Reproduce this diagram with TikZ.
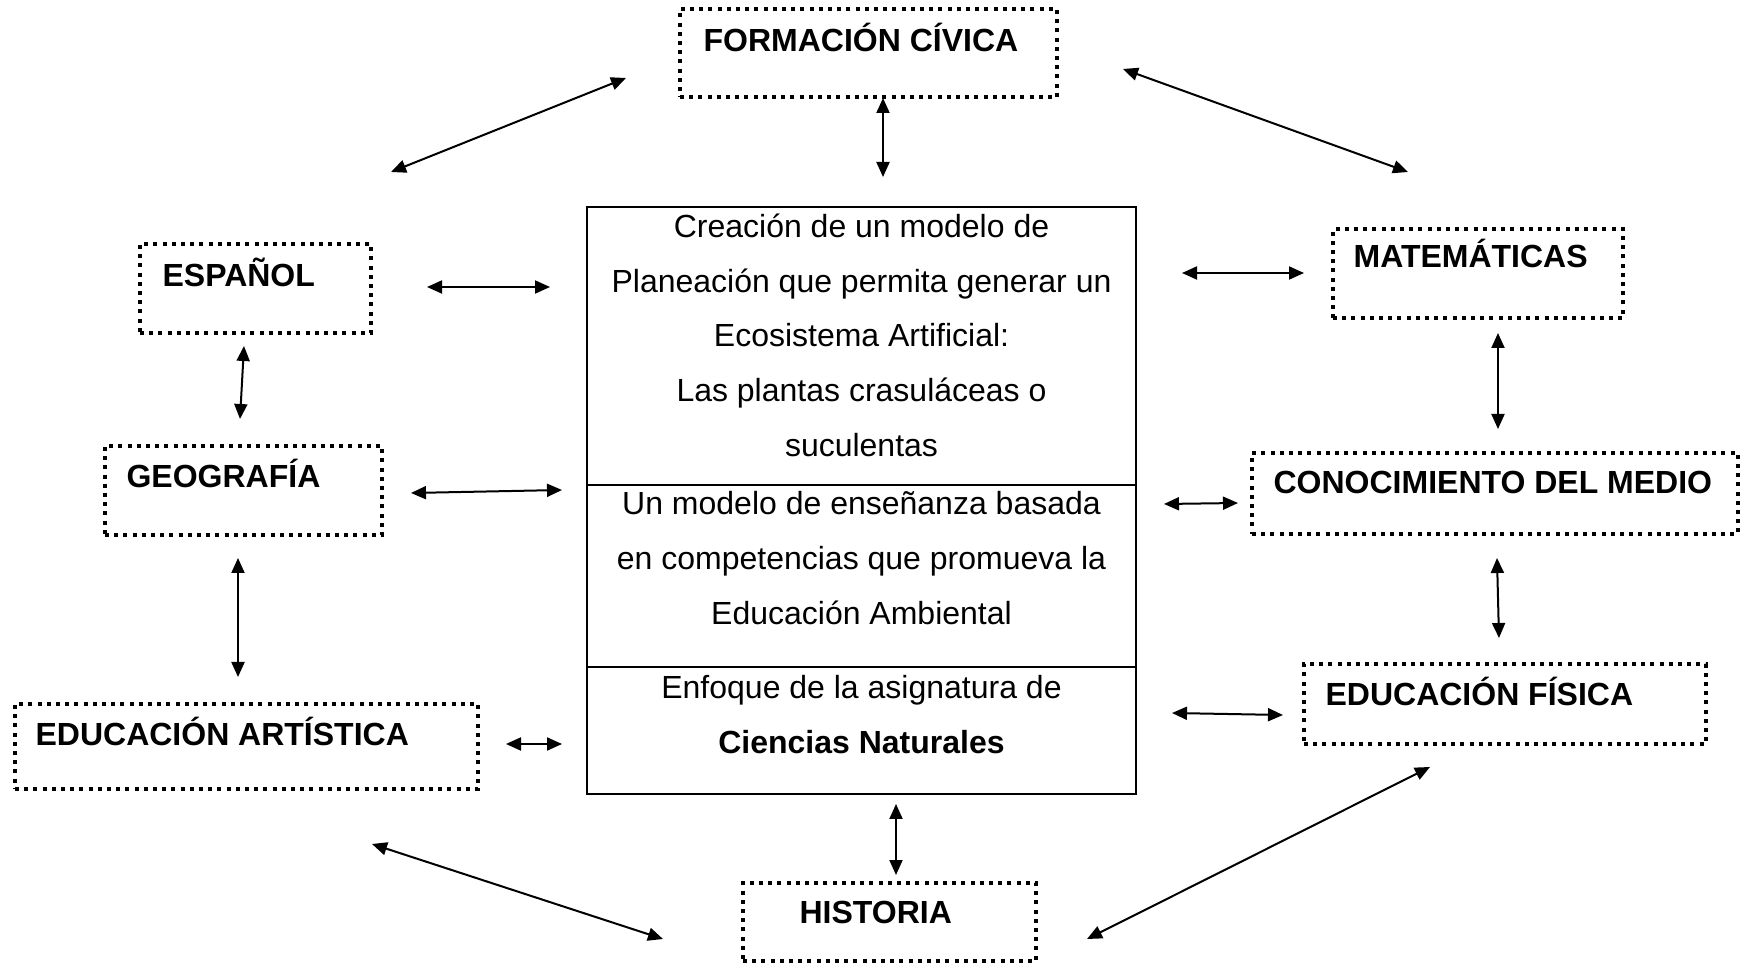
\documentclass[tikz,border=0pt]{standalone}
\usepackage{fontspec}
\setmainfont{Liberation Sans}
\usetikzlibrary{arrows.meta,fit,calc}
\begin{document}
\begin{tikzpicture}[x=0.5pt,y=-0.5pt,
  sbox/.style={draw, line width=1.8pt, dash pattern=on 2pt off 2.6pt, rectangle, inner sep=0pt},
  cbox/.style={draw, line width=1pt, rectangle, inner sep=0pt},
  lbl/.style={anchor=base west, inner sep=0pt, font=\fontsize{16}{19}\selectfont\bfseries},
  ctext/.style={anchor=base, inner sep=0pt, font=\fontsize{16}{19}\selectfont},
  link/.style={line width=1pt, {Triangle[length=7.5pt,width=6.5pt]}-{Triangle[length=7.5pt,width=6.5pt]}}]
\useasboundingbox (0,0) rectangle (1752,967);

% dotted subject boxes
\node[sbox, fit={(680,9) (1057,97)}] (fc) {};
\node[sbox, fit={(140,244) (371,333)}] (esp) {};
\node[sbox, fit={(105,446) (382,535)}] (geo) {};
\node[sbox, fit={(15,704) (478,789)}] (art) {};
\node[sbox, fit={(743,883) (1036,961)}] (his) {};
\node[sbox, fit={(1333,229) (1623,318)}] (mat) {};
\node[sbox, fit={(1252,453) (1738,534)}] (con) {};
\node[sbox, fit={(1304,664) (1706,744)}] (fis) {};

\node[lbl] (fct) at ($(fc.north west)+(25,44)$) {FORMACIÓN CÍVICA};
\node[lbl] (espt) at ($(esp.north west)+(24,44)$) {ESPAÑOL};
\node[lbl] (geot) at ($(geo.north west)+(23,43)$) {GEOGRAFÍA};
\node[lbl] (artt) at ($(art.north west)+(22,43)$) {EDUCACIÓN ARTÍSTICA};
\node[lbl] (hist) at ($(his.north west)+(58,42)$) {HISTORIA};
\node[lbl] (matt) at ($(mat.north west)+(22,40)$) {MATEMÁTICAS};
\node[lbl] (cont) at ($(con.north west)+(23,42)$) {CONOCIMIENTO DEL MEDIO};
\node[lbl] (fist) at ($(fis.north west)+(23,43)$) {EDUCACIÓN FÍSICA};

% central box
\node[cbox, fit={(587,207) (1136,794)}] (cen) {};
\coordinate (d1) at (0,485);
\coordinate (d2) at (0,667);
\draw[line width=1pt] (cen.west |- d1) -- (cen.east |- d1);
\draw[line width=1pt] (cen.west |- d2) -- (cen.east |- d2);

\node[ctext] (c1) at (cen.north |- 0,238) {Creación de un modelo de};
\node[ctext] (c2) at (cen.north |- 0,293) {Planeación que permita generar un};
\node[ctext] (c3) at (cen.north |- 0,347) {Ecosistema Artificial:};
\node[ctext] (c4) at (cen.north |- 0,402) {Las plantas crasuláceas o};
\node[ctext] (c5) at (cen.north |- 0,457) {suculentas};
\node[ctext] (c6) at (cen.north |- 0,515) {Un modelo de enseñanza basada};
\node[ctext] (c7) at (cen.north |- 0,570) {en competencias que promueva la};
\node[ctext] (c8) at (cen.north |- 0,625) {Educación Ambiental};
\node[ctext] (c9) at (cen.north |- 0,699) {Enfoque de la asignatura de};
\node[ctext, font=\fontsize{16}{19}\selectfont\bfseries] (c10) at (cen.north |- 0,754) {Ciencias Naturales};

% arrow end points
\coordinate (a1a) at (626,78);   \coordinate (a1b) at (391,172);
\coordinate (a2a) at (883,98);   \coordinate (a2b) at (883,177);
\coordinate (a3a) at (1123,69);  \coordinate (a3b) at (1408,172);
\coordinate (a4a) at (427,287);  \coordinate (a4b) at (550,287);
\coordinate (a5a) at (244,346);  \coordinate (a5b) at (240,419);
\coordinate (a6a) at (411,493);  \coordinate (a6b) at (562,490);
\coordinate (a7a) at (238,558);  \coordinate (a7b) at (238,677);
\coordinate (a8a) at (506,744);  \coordinate (a8b) at (562,744);
\coordinate (a9a) at (372,844);  \coordinate (a9b) at (663,939);
\coordinate (a10a) at (896,804); \coordinate (a10b) at (896,875);
\coordinate (a11a) at (1087,939);\coordinate (a11b) at (1430,767);
\coordinate (a12a) at (1182,273);\coordinate (a12b) at (1304,273);
\coordinate (a13a) at (1498,333);\coordinate (a13b) at (1498,429);
\coordinate (a14a) at (1164,504);\coordinate (a14b) at (1238,503);
\coordinate (a15a) at (1497,558);\coordinate (a15b) at (1499,638);
\coordinate (a16a) at (1172,713);\coordinate (a16b) at (1283,715);

\foreach \i in {1,...,16} {\draw[link] (a\i a) -- (a\i b);}
\end{tikzpicture}
\end{document}
